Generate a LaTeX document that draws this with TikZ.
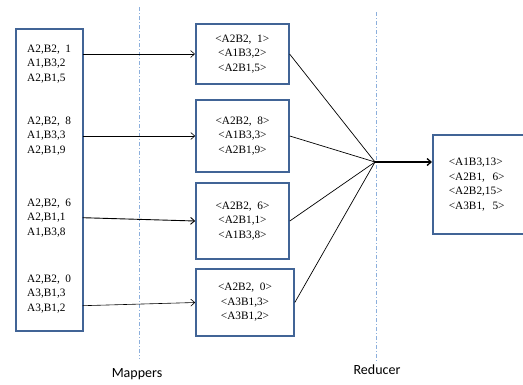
\documentclass[tikz,border=0pt]{standalone}
\usepackage{fontspec}
\setmainfont{Liberation Serif}
\newfontfamily\boxfont{Liberation Serif}
\newfontfamily\labelfont{Carlito}
\usepackage{tikz}
\usetikzlibrary{arrows.meta, positioning, calc}
\definecolor{boxblue}{RGB}{65,100,150}
\definecolor{lineblue}{RGB}{140,175,220}

\begin{document}
\begin{tikzpicture}[
    x=1pt, y=-1pt,
    font=\boxfont\fontsize{11.3}{14.5}\selectfont,
    % Node styles
    srcbox/.style={rectangle, draw=boxblue, line width=1.6pt, minimum width=67pt, minimum height=302pt, inner sep=0pt},
    mapbox/.style={rectangle, draw=boxblue, line width=1.6pt, minimum width=93pt, align=center, inner sep=0pt},
    group/.style={anchor=west, align=left, inner sep=0pt},
    arrow/.style={-{Straight Barb[length=4pt, width=7pt]}, line width=0.6pt},
    merge/.style={line width=0.7pt},
    phase/.style={draw=lineblue, line width=0.7pt, dash pattern=on 4pt off 2pt on 1pt off 2pt},
    caption/.style={font=\labelfont\fontsize{14}{16}\selectfont},
]
\useasboundingbox (0,0) rectangle (523,384);
\clip (0,0) rectangle (523,384);

% ============================================================================
% PHASE SEPARATORS
% ============================================================================
\draw[phase] (139.3,7) -- (139.3,359);
\draw[phase] (376,12) -- (376,363);
\node[caption] (mappers) at (137,374) {Mappers};
\node[caption] (reducer) at (377,370) {Reducer};

% ============================================================================
% INPUT SPLITS
% ============================================================================
\node[srcbox] (src) at (49.2,179.8) {};

\node[group] (g1) at (27,63.8) {A2,B2, \ 1\\A1,B3,2\\A2,B1,5};
\node[group] (g2) at (27,136) {A2,B2, \ 8\\A1,B3,3\\A2,B1,9};
\node[group] (g3) at (27,218) {A2,B2, \ 6\\A2,B1,1\\A1,B3,8};
\node[group] (g4) at (27,294) {A2,B2, \ 0\\A3,B1,3\\A3,B1,2};

\coordinate (s1) at (82.7,54);
\coordinate (s2) at (82.7,136);
\coordinate (s3) at (82.7,217.7);
\coordinate (s4) at (82.7,305.7);

% ============================================================================
% MAPPERS
% ============================================================================
\node[mapbox, minimum height=60pt] (m1) at (242.3,54) {<A2B2, \ 1>\\<A1B3,2>\\<A2B1,5>};
\node[mapbox, minimum height=72pt] (m2) at (242.5,136) {<A2B2, \ 8>\\<A1B3,3>\\<A2B1,9>};
\node[mapbox, minimum height=76pt] (m3) at (242.5,221) {<A2B2, \ 6>\\<A2B1,1>\\<A1B3,8>};
\node[mapbox, minimum width=98pt, minimum height=67pt] (m4) at (245,302.5) {<A2B2, \ 0>\\<A3B1,3>\\<A3B1,2>};

\draw[arrow] (s1) -- (m1.west);
\draw[arrow] (s2) -- (m2.west);
\draw[arrow, line width=0.9pt] (s3) -- (m3.west);
\draw[arrow] (s4) -- (m4.west);

% ============================================================================
% REDUCER
% ============================================================================
\coordinate (r) at (375,162);

\foreach \m in {m1, m2, m3, m4} {
    \draw[merge] (\m.east) -- (r);
}

\node[rectangle, draw=boxblue, line width=1.6pt, anchor=west, minimum height=99pt,
      text width=110pt, inner xsep=16pt, inner ysep=0pt, align=left] (out) at (432,184.5)
    {<A1B3,13>\\<A2B1, \ 6>\\<A2B2,15>\\<A3B1, \ 5>};

\draw[arrow, line width=1.3pt] (r) -- (out.west |- r);

\end{tikzpicture}
\end{document}
